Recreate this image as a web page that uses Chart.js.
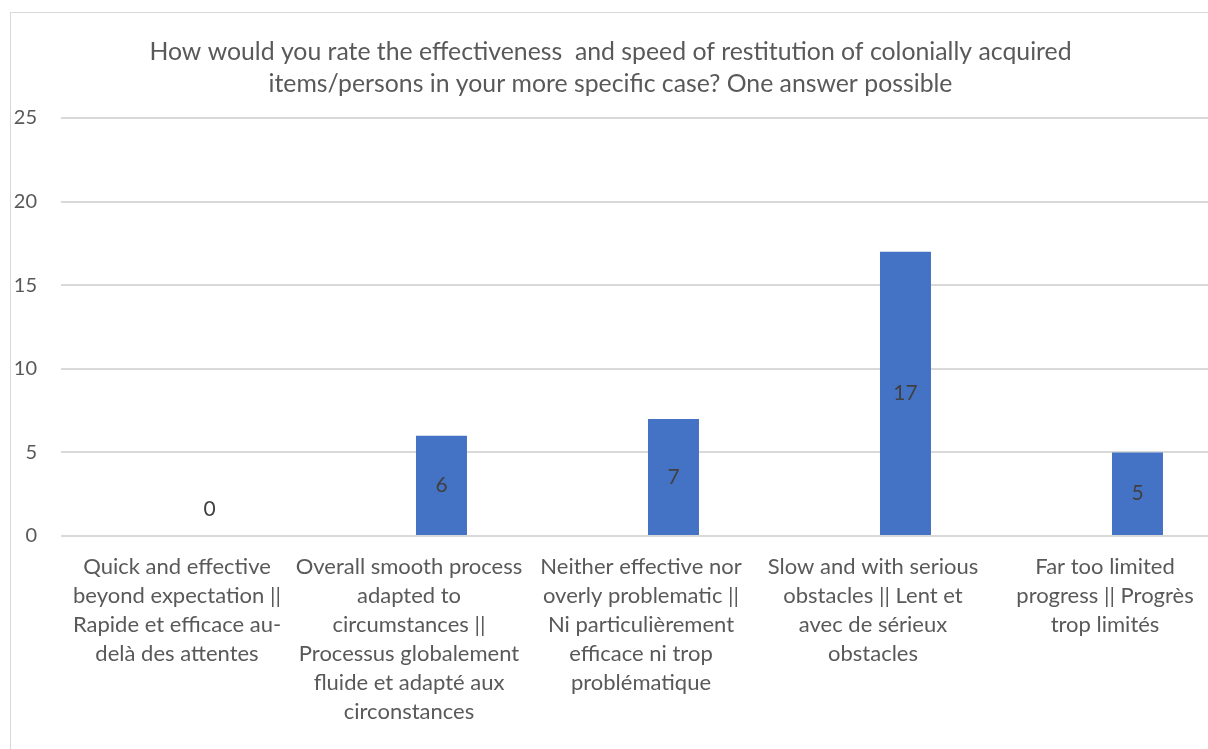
<!DOCTYPE html>
<html>
<head>
<meta charset="utf-8">
<script src="https://cdn.jsdelivr.net/npm/chart.js@4.4.1/dist/chart.umd.min.js"></script>
<style>
  html, body { margin: 0; padding: 0; background: #fff; overflow: hidden; width: 1208px; height: 749px; }
  #frame { position: absolute; left: 10px; top: 12px; width: 1300px; height: 800px; border: 1px solid #d9d9d9; box-sizing: border-box; }
  #wrap { position: absolute; left: 0; top: 0; width: 1230px; height: 749px; }
</style>
</head>
<body>
<div id="frame"></div>
<div id="wrap"><canvas id="c" width="1230" height="749"></canvas></div>
<script>
// Survey answers (English || French), one label line per array entry
const categories = [
  ['Quick and effective', 'beyond expectation ||', 'Rapide et efficace au-', 'delà des attentes'],
  ['Overall smooth process', 'adapted to', 'circumstances ||', 'Processus globalement', 'fluide et adapté aux', 'circonstances'],
  ['Neither effective nor', 'overly problematic ||', 'Ni particulièrement', 'efficace ni trop', 'problématique'],
  ['Slow and with serious', 'obstacles || Lent et', 'avec de sérieux', 'obstacles'],
  ['Far too limited', 'progress || Progrès', 'trop limités']
];
// Empty companion column of the clustered layout
const blankSeries = [null, null, null, null, null];
// Number of responses per answer
const responses = [0, 6, 7, 17, 5];
const yTicks = [0, 5, 10, 15, 20, 25];

const titleLines = [
  'How would you rate the effectiveness  and speed of restitution of colonially acquired',
  'items/persons in your more specific case? One answer possible'
];

const FONT = 'Lato, "Open Sans", sans-serif';
const TEXT = '#595959';

// Value labels centred in each bar; a zero bar gets its label just above the axis
const valueLabels = {
  id: 'valueLabels',
  afterDatasetsDraw(chart) {
    const ctx = chart.ctx;
    const meta = chart.getDatasetMeta(1);
    ctx.save();
    ctx.font = '21px ' + FONT;
    ctx.fillStyle = '#404040';
    ctx.textAlign = 'center';
    ctx.textBaseline = 'middle';
    meta.data.forEach((bar, i) => {
      const v = chart.data.datasets[1].data[i];
      if (v === null || v === undefined) return;
      const y = v === 0 ? bar.base - 27 : (bar.y + bar.base) / 2;
      ctx.fillText(String(v), bar.x, y);
    });
    ctx.restore();
  }
};

new Chart(document.getElementById('c'), {
  type: 'bar',
  data: {
    labels: categories,
    datasets: [
      { label: '', data: blankSeries, backgroundColor: 'rgba(0,0,0,0)' },
      { label: 'Responses', data: responses, backgroundColor: '#4472C4', borderWidth: 0 }
    ]
  },
  options: {
    responsive: false,
    animation: false,
    devicePixelRatio: 1,
    categoryPercentage: 0.56,
    barPercentage: 0.785,
    layout: { padding: { left: 0, right: 9, top: 0, bottom: 0 } },
    plugins: {
      legend: { display: false },
      tooltip: { enabled: false },
      title: {
        display: true,
        text: titleLines,
        color: TEXT,
        font: { family: FONT, size: 24.8, weight: 'normal', lineHeight: 32 / 24.8 },
        padding: { top: 36, bottom: 18 }
      }
    },
    scales: {
      x: {
        grid: { display: false, drawTicks: false },
        border: { display: false },
        ticks: {
          color: TEXT,
          font: { family: FONT, size: 22, lineHeight: 29 / 22 },
          padding: 16,
          maxRotation: 0,
          minRotation: 0,
          autoSkip: false
        },
        afterFit(scale) { scale.height = 213; }
      },
      y: {
        min: 0,
        max: 25,
        afterBuildTicks(scale) { scale.ticks = yTicks.map(v => ({ value: v })); },
        grid: { color: '#d9d9d9', lineWidth: 2, drawTicks: false },
        border: { display: false },
        ticks: {
          color: TEXT,
          font: { family: FONT, size: 20 },
          padding: 24
        },
        afterFit(scale) { scale.width = 61; }
      }
    }
  },
  plugins: [valueLabels]
});
</script>
</body>
</html>
